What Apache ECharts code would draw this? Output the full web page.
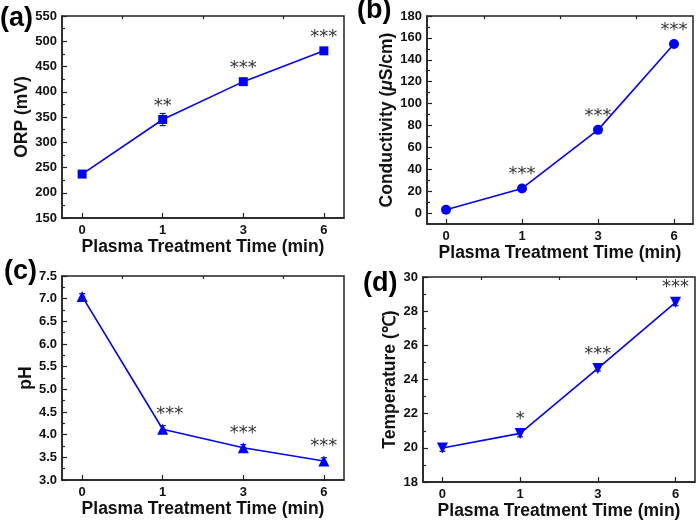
<!DOCTYPE html>
<html>
<head>
<meta charset="utf-8">
<script src="https://cdn.jsdelivr.net/npm/echarts@6/dist/echarts.min.js"></script>
<style>
html,body{margin:0;padding:0;background:#fff;}
#main{width:700px;height:521px;}
</style>
</head>
<body>
<div id="main"></div>
<script>
// ---- data ----
const categories = ['0', '1', '3', '6'];

const orpValues = [237, 345, 420, 481];
const orpErrors = [5, 12, 6, 5];
const orpStars = ['', '**', '***', '***'];
const orpTicks = [150, 200, 250, 300, 350, 400, 450, 500, 550];

const condValues = [3, 22.5, 76, 154.5];
const condErrors = [0.8, 1.5, 2, 2.5];
const condStars = ['', '***', '***', '***'];
const condTicks = [0, 20, 40, 60, 80, 100, 120, 140, 160, 180];
const condRange = [-10, 180];

const phValues = [7.05, 4.12, 3.71, 3.42];
const phErrors = [0.06, 0.08, 0.07, 0.07];
const phStars = ['', '***', '***', '***'];
const phTicks = [3.0, 3.5, 4.0, 4.5, 5.0, 5.5, 6.0, 6.5, 7.0, 7.5];

const tempValues = [20.0, 20.85, 24.65, 28.52];
const tempErrors = [0.2, 0.2, 0.15, 0.2];
const tempStars = ['', '*', '***', '***'];
const tempTicks = [18, 20, 22, 24, 26, 28, 30];

const xTitle = 'Plasma Treatment Time (min)';

// ---- build ----
const FONT = 'Liberation Sans';
const BLUE = '#0000ff';
const slots = [];
categories.forEach((c, i) => { slots.push(c); if (i < categories.length - 1) slots.push('mid' + i); });

const chart = echarts.init(document.getElementById('main'));

const grids = [
  { left: 62, top: 16, width: 282, height: 202 },
  { left: 427, top: 16, width: 266, height: 208 },
  { left: 62, top: 276, width: 282, height: 204 },
  { left: 423, top: 277, width: 272, height: 207 }
];

const panels = [
  { values: orpValues, errors: orpErrors, stars: orpStars, ticks: orpTicks, name: 'ORP (mV)', nameGap: 30, symbol: 'rect', size: 9, rotate: 0, fmt: v => String(v) },
  { values: condValues, errors: condErrors, stars: condStars, ticks: condTicks, range: condRange, name: 'Conductivity ({i|μ}S/cm)', nameGap: 27, symbol: 'circle', size: 10, rotate: 0, fmt: v => String(v) },
  { values: phValues, errors: phErrors, stars: phStars, ticks: phTicks, name: 'pH', nameGap: 7, symbol: 'triangle', size: 11, rotate: 0, fmt: v => v.toFixed(1), starShift: [1, 7] },
  { values: tempValues, errors: tempErrors, stars: tempStars, ticks: tempTicks, name: 'Temperature (℃)', nameGap: 22, symbol: 'triangle', size: 11, rotate: 180, fmt: v => String(v) }
];

const xAxes = [], yAxes = [], series = [];
panels.forEach((p, g) => {
  const labelFont = { fontFamily: FONT, fontWeight: 'bold', fontSize: 13, color: '#111' };
  xAxes.push({
    type: 'category', gridIndex: g, data: slots, boundaryGap: true,
    axisLine: { show: true, onZero: false, lineStyle: { color: '#222', width: 1.5 } },
    axisTick: { show: true, inside: true, length: 5, alignWithLabel: true, interval: (i) => i % 2 === 0, lineStyle: { color: '#222', width: 1.2 } },
    axisLabel: Object.assign({ margin: 6, interval: (i) => i % 2 === 0 }, labelFont),
    name: xTitle, nameLocation: 'middle', nameGap: 19,
    nameTextStyle: { fontFamily: FONT, fontWeight: 'bold', fontSize: 17.5, color: '#111', verticalAlign: 'top' },
    splitLine: { show: false }
  });
  xAxes.push({
    type: 'category', gridIndex: g, data: slots, boundaryGap: true,
    axisLine: { show: false, onZero: false },
    axisTick: { show: true, inside: true, length: 3, alignWithLabel: true, interval: (i) => i % 2 === 1, lineStyle: { color: '#222', width: 1.2 } },
    axisLabel: { show: false }, splitLine: { show: false }
  });
  const t = p.ticks;
  const step = t[1] - t[0];
  const minV = p.range ? p.range[0] : t[0];
  const maxV = p.range ? p.range[1] : t[t.length - 1];
  const nameStyle = { fontFamily: FONT, fontWeight: 'bold', fontSize: 17.5, color: '#111', rich: { i: { fontFamily: FONT, fontWeight: 'bold', fontStyle: 'italic', fontSize: 17.5, color: '#111' } } };
  if (!p.range) {
    yAxes.push({
      type: 'value', gridIndex: g, min: minV, max: maxV, interval: step,
      axisLine: { show: true, onZero: false, lineStyle: { color: '#222', width: 1.5 } },
      axisTick: { show: true, inside: true, length: 5, lineStyle: { color: '#222', width: 1.2 } },
      minorTick: { show: true, splitNumber: 2, length: 3, lineStyle: { color: '#222', width: 1.2 } },
      axisLabel: Object.assign({ margin: 5, formatter: p.fmt }, labelFont),
      splitLine: { show: false }, minorSplitLine: { show: false },
      name: p.name, nameLocation: 'middle', nameGap: p.nameGap, nameTextStyle: nameStyle
    });
    yAxes.push(null);
  } else {
    yAxes.push({
      type: 'value', gridIndex: g, min: minV, max: maxV,
      axisLine: { show: true, onZero: false, lineStyle: { color: '#222', width: 1.5 } },
      axisTick: { show: true, inside: true, length: 5, customValues: t, lineStyle: { color: '#222', width: 1.2 } },
      axisLabel: Object.assign({ margin: 5, formatter: p.fmt, customValues: t }, labelFont),
      splitLine: { show: false },
      name: p.name, nameLocation: 'middle', nameGap: p.nameGap, nameTextStyle: nameStyle
    });
    const mids = t.slice(0, -1).map((v, i) => (v + t[i + 1]) / 2);
    yAxes.push({
      type: 'value', gridIndex: g, min: minV, max: maxV, position: 'left', offset: 0,
      axisLine: { show: false, onZero: false },
      axisTick: { show: true, inside: true, length: 3, customValues: mids, lineStyle: { color: '#222', width: 1.2 } },
      axisLabel: { show: false, customValues: mids }, splitLine: { show: false }
    });
  }
});

const yList = [];
const yIndexOf = [];
for (let g = 0; g < panels.length; g++) {
  yIndexOf[g] = yList.length;
  yList.push(yAxes[g * 2]);
  if (yAxes[g * 2 + 1]) yList.push(yAxes[g * 2 + 1]);
}

panels.forEach((p, g) => {
  const pts = categories.map((c, i) => [i * 2, p.values[i], p.errors[i]]);
  series.push({
    type: 'custom', xAxisIndex: g * 2, yAxisIndex: yIndexOf[g], z: 2,
    data: pts, encode: { x: 0, y: 1 },
    renderItem: (params, api) => {
      const x = api.value(0), y = api.value(1), e = api.value(2);
      const top = api.coord([x, y + e]);
      const bot = api.coord([x, y - e]);
      const w = 3;
      const st = { stroke: BLUE, lineWidth: 1.2 };
      return { type: 'group', children: [
        { type: 'line', shape: { x1: top[0], y1: top[1], x2: bot[0], y2: bot[1] }, style: st },
        { type: 'line', shape: { x1: top[0] - w, y1: top[1], x2: top[0] + w, y2: top[1] }, style: st },
        { type: 'line', shape: { x1: bot[0] - w, y1: bot[1], x2: bot[0] + w, y2: bot[1] }, style: st }
      ] };
    }
  });
  series.push({
    type: 'line', xAxisIndex: g * 2, yAxisIndex: yIndexOf[g], z: 3,
    data: pts.map((d, i) => {
      const item = { value: [d[0], d[1]] };
      if (p.starShift && p.starShift[0] === i) item.label = { offset: [p.starShift[1], 0] };
      return item;
    }),
    symbol: p.symbol, symbolSize: p.size, symbolRotate: p.rotate,
    lineStyle: { color: BLUE, width: 1.6 },
    itemStyle: { color: BLUE },
    label: {
      show: true, position: 'top', distance: 0,
      formatter: (params) => p.stars[params.dataIndex],
      fontFamily: 'DejaVu Sans', fontSize: 18, color: '#333'
    },
    animation: false
  });
});

const panelLabels = ['(a)', '(b)', '(c)', '(d)'];
const labelPos = [[0, 20], [357, 12], [4, 273], [363, 285]];

chart.setOption({
  animation: false,
  grid: grids.map(g => Object.assign({ show: true, borderColor: '#222', borderWidth: 1.5, backgroundColor: 'transparent' }, g)),
  xAxis: xAxes,
  yAxis: yList,
  series: series,
  graphic: panelLabels.map((t, i) => ({
    type: 'text', left: labelPos[i][0], top: labelPos[i][1] - 15,
    style: { text: t, fontFamily: FONT, fontWeight: 'bold', fontSize: 27, fill: '#000' }
  }))
});
</script>
</body>
</html>
